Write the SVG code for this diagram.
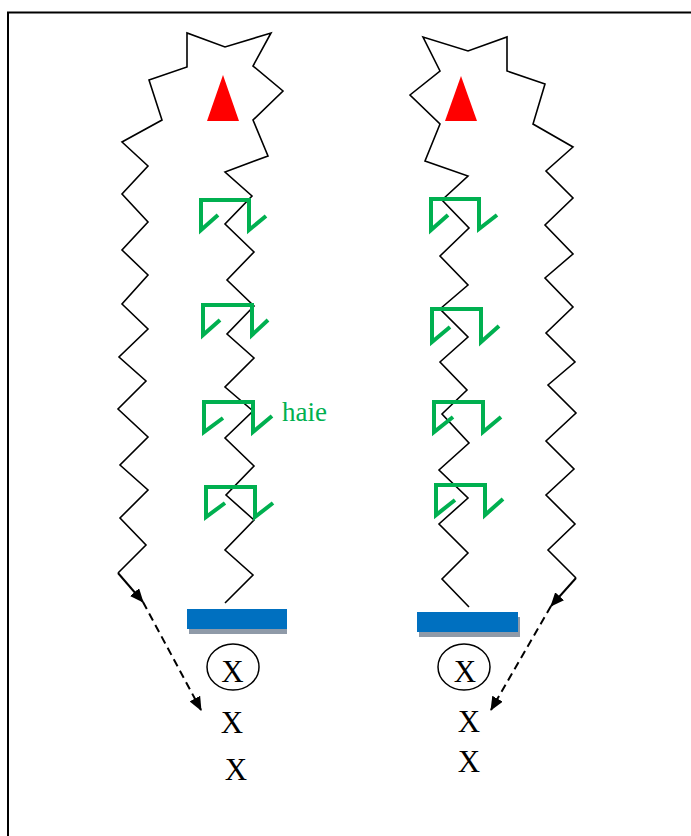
<svg xmlns="http://www.w3.org/2000/svg" width="691" height="836" viewBox="0 0 691 836">
<style>
.route{fill:none;stroke:#000;stroke-width:1.6;stroke-linejoin:miter}
.hedge{fill:none;stroke:#00B050;stroke-width:4;stroke-linejoin:miter}
.tri{fill:#FF0000}
.bar{fill:#0070C0}
.shadow{fill:#8F9AA8}
.arr{fill:none;stroke:#000;stroke-width:2}
.dash{stroke-dasharray:8 5}
.x{font-family:"Liberation Serif","Times New Roman",serif;font-size:31px;fill:#000;text-anchor:middle}
.lbl{font-family:"Liberation Serif","Times New Roman",serif;font-size:27px;fill:#00B050}
</style>
<defs>
<marker id="ah" viewBox="0 0 14 12" refX="13" refY="6" markerWidth="14" markerHeight="12" markerUnits="userSpaceOnUse" orient="auto">
<path d="M0,0 L14,6 L0,12 z" fill="#000"/>
</marker>
</defs>
<rect x="8" y="12.5" width="700" height="850" fill="#fff" stroke="#000" stroke-width="2"/>

<g id="left-route">
<polyline class="route" points="118,573 146,545 120,518 148,490 120,465 148,437 118,409 146,381 119,357 148,329 122,304 148,275 122,250 148,222 122,194 148,166 122,142 162,120 149,80 187,67 187,33 225,47 271,33 253,66 283,91 253,120 268,156 225,172 252,196 225,224 254,252 227,280 254,306 227,334 254,358 225,387 253,411 225,438 254,466 226,495 254,520 225,550 253,575 225,603"/>
<polygon class="tri" points="207,121 223,75 239,121"/>
</g>

<g id="right-route">
<polyline class="route" points="576,578 548,550 575,524 546,495 574,469 546,441 576,413 548,385 575,362 546,333 573,307 545,278 573,254 545,225 573,198 546,171 573,147 533,124 545,84 507,71 507,37 468,51 423,37 440,71 410,95 440,124 425,161 468,176 442,200 469,228 440,256 468,285 440,309 468,337 440,362 467,390 442,414 469,443 439,470 468,498 439,524 468,553 442,579 469,607"/>
<polygon class="tri" points="445,121 461,76 477,121"/>
</g>

<g id="left-hedges">
<polyline class="hedge" points="218,215 201,230 201,200 249,200 249,230 266,216"/>
<polyline class="hedge" points="220,320 203,335 203,305 252,305 252,335 268,320"/>
<polyline class="hedge" points="223,418 204,432 204,402 253,402 253,432 272,416"/>
<polyline class="hedge" points="225,503 206,517 206,487 255,487 255,517 273,503"/>
<text class="lbl" x="282" y="421">haie</text>
</g>

<g id="right-hedges">
<polyline class="hedge" points="448,215 431,230 431,199 479,199 479,229 497,215"/>
<polyline class="hedge" points="450,327 432,342 432,309 481,309 481,342 499,326"/>
<polyline class="hedge" points="453,417 434,432 434,402 483,402 483,432 501,417"/>
<polyline class="hedge" points="455,500 436,515 436,485 485,485 485,515 503,499"/>
</g>

<g id="left-wall">
<rect class="shadow" x="189" y="614" width="98" height="20"/>
<rect class="bar" x="187" y="609" width="100" height="20"/>
</g>
<g id="right-wall">
<rect class="shadow" x="419" y="617" width="101" height="20"/>
<rect class="bar" x="417" y="612" width="101" height="20"/>
</g>

<g id="left-players">
<ellipse cx="233" cy="667" rx="26" ry="23" fill="none" stroke="#000" stroke-width="1.5"/>
<text class="x" x="232.5" y="682">X</text>
<text class="x" x="232" y="733">X</text>
<text class="x" x="236" y="780">X</text>
</g>
<g id="right-players">
<ellipse cx="464" cy="667" rx="26" ry="23" fill="none" stroke="#000" stroke-width="1.5"/>
<text class="x" x="465" y="682">X</text>
<text class="x" x="469" y="732">X</text>
<text class="x" x="469" y="772">X</text>
</g>

<g id="connectors">
<line class="arr" x1="118" y1="573" x2="143" y2="602" marker-end="url(#ah)"/>
<line class="arr dash" x1="143" y1="602" x2="201" y2="710" marker-end="url(#ah)"/>
<line class="arr" x1="576" y1="578" x2="551" y2="606" marker-end="url(#ah)"/>
<line class="arr dash" x1="551" y1="606" x2="491" y2="710" marker-end="url(#ah)"/>
</g>
</svg>
